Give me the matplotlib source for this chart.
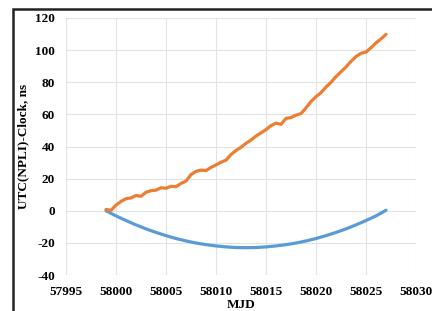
import matplotlib
matplotlib.use("Agg")
import matplotlib.pyplot as plt
from matplotlib.patches import Rectangle

# Orange series (UTC(NPLI) - Clock, noisy rising)
mjd_orange = [57999.0, 57999.5, 58000.0, 58000.5, 58001.0, 58001.5, 58002.0, 58002.5,
              58003.0, 58003.5, 58004.0, 58004.5, 58005.0, 58005.5, 58006.0, 58006.5,
              58007.0, 58007.5, 58008.0, 58008.5, 58009.0, 58009.5, 58010.0, 58010.5,
              58011.0, 58011.5, 58012.0, 58012.5, 58013.0, 58013.5, 58014.0, 58014.5,
              58015.0, 58015.5, 58016.0, 58016.5, 58017.0, 58017.5, 58018.0, 58018.5,
              58019.0, 58019.5, 58020.0, 58020.5, 58021.0, 58021.5, 58022.0, 58022.5,
              58023.0, 58023.5, 58024.0, 58024.5, 58025.0, 58025.5, 58026.0, 58026.5,
              58027.0]
val_orange = [0.8, 0.3, 3.5, 5.8, 7.5, 8.0, 9.5, 9.0,
              11.5, 12.5, 12.8, 14.3, 14.0, 15.2, 15.0, 17.0,
              18.5, 22.5, 24.5, 25.3, 25.0, 27.0, 28.5, 30.2,
              31.5, 35.0, 37.5, 39.5, 42.0, 44.0, 46.5, 48.5,
              50.5, 53.0, 54.5, 53.8, 57.5, 58.0, 59.5, 60.5,
              64.0, 68.0, 71.0, 73.5, 77.0, 80.0, 83.5, 86.5,
              89.5, 93.0, 96.0, 98.0, 98.8, 101.5, 104.5, 107.0,
              109.8]

# Blue series (smooth curve)
mjd_blue = [57999, 58000, 58001, 58002, 58003, 58004, 58005, 58006, 58007, 58008,
            58009, 58010, 58011, 58012, 58013, 58014, 58015, 58016, 58017, 58018,
            58019, 58020, 58021, 58022, 58023, 58024, 58025, 58026, 58027]
val_blue = [0.0, -3.2, -6.1, -8.8, -11.3, -13.5, -15.5, -17.3, -18.8, -20.1,
            -21.1, -21.9, -22.5, -22.9, -23.0, -22.9, -22.5, -21.9, -21.1, -20.1,
            -18.8, -17.3, -15.5, -13.5, -11.3, -8.8, -6.1, -3.2, 0.3]

x_ticks = [57995, 58000, 58005, 58010, 58015, 58020, 58025, 58030]
y_ticks = [-40, -20, 0, 20, 40, 60, 80, 100, 120]

W, H = 432, 311
fig = plt.figure(figsize=(W / 100, H / 100), dpi=100)
ax = fig.add_axes([66 / W, 1 - 275 / H, (416 - 66) / W, (275 - 18) / H])

ax.plot(mjd_blue, val_blue, color="#5B9BD5", lw=2.3, solid_capstyle="round", zorder=3)
ax.plot(mjd_orange, val_orange, color="#ED7D31", lw=2.3, solid_capstyle="round",
        solid_joinstyle="round", zorder=4)

ax.set_xlim(57995, 58030)
ax.set_ylim(-40, 120)
ax.set_xticks(x_ticks)
ax.set_yticks(y_ticks)
ax.set_xticklabels([str(t) for t in x_ticks])
ax.set_yticklabels([str(t) for t in y_ticks])

ax.grid(True, color="#E3E3E3", lw=0.8)
ax.set_axisbelow(True)
for s in ax.spines.values():
    s.set_visible(False)
ax.tick_params(length=0, pad=8)

FS = 9.5
font = dict(family="Liberation Serif", weight="bold", size=FS)
for lab in ax.get_xticklabels() + ax.get_yticklabels():
    lab.set_fontfamily("Liberation Serif")
    lab.set_fontweight("bold")
    lab.set_fontsize(FS)

ax.set_xlabel("MJD", **font)
ax.set_ylabel("UTC(NPLI)-Clock, ns", **font)
ax.xaxis.set_label_coords(0.5, -0.095)
ax.yaxis.set_label_coords(-0.105, 0.5)

# outer chart border (top and left visible)
fig.patches.append(Rectangle((12.5 / W, -0.1), 1.2, 1 - 8.5 / H + 0.1,
                             transform=fig.transFigure, fill=False,
                             edgecolor="#222222", lw=1.8, clip_on=False))

fig.savefig("out.png", dpi=100)
